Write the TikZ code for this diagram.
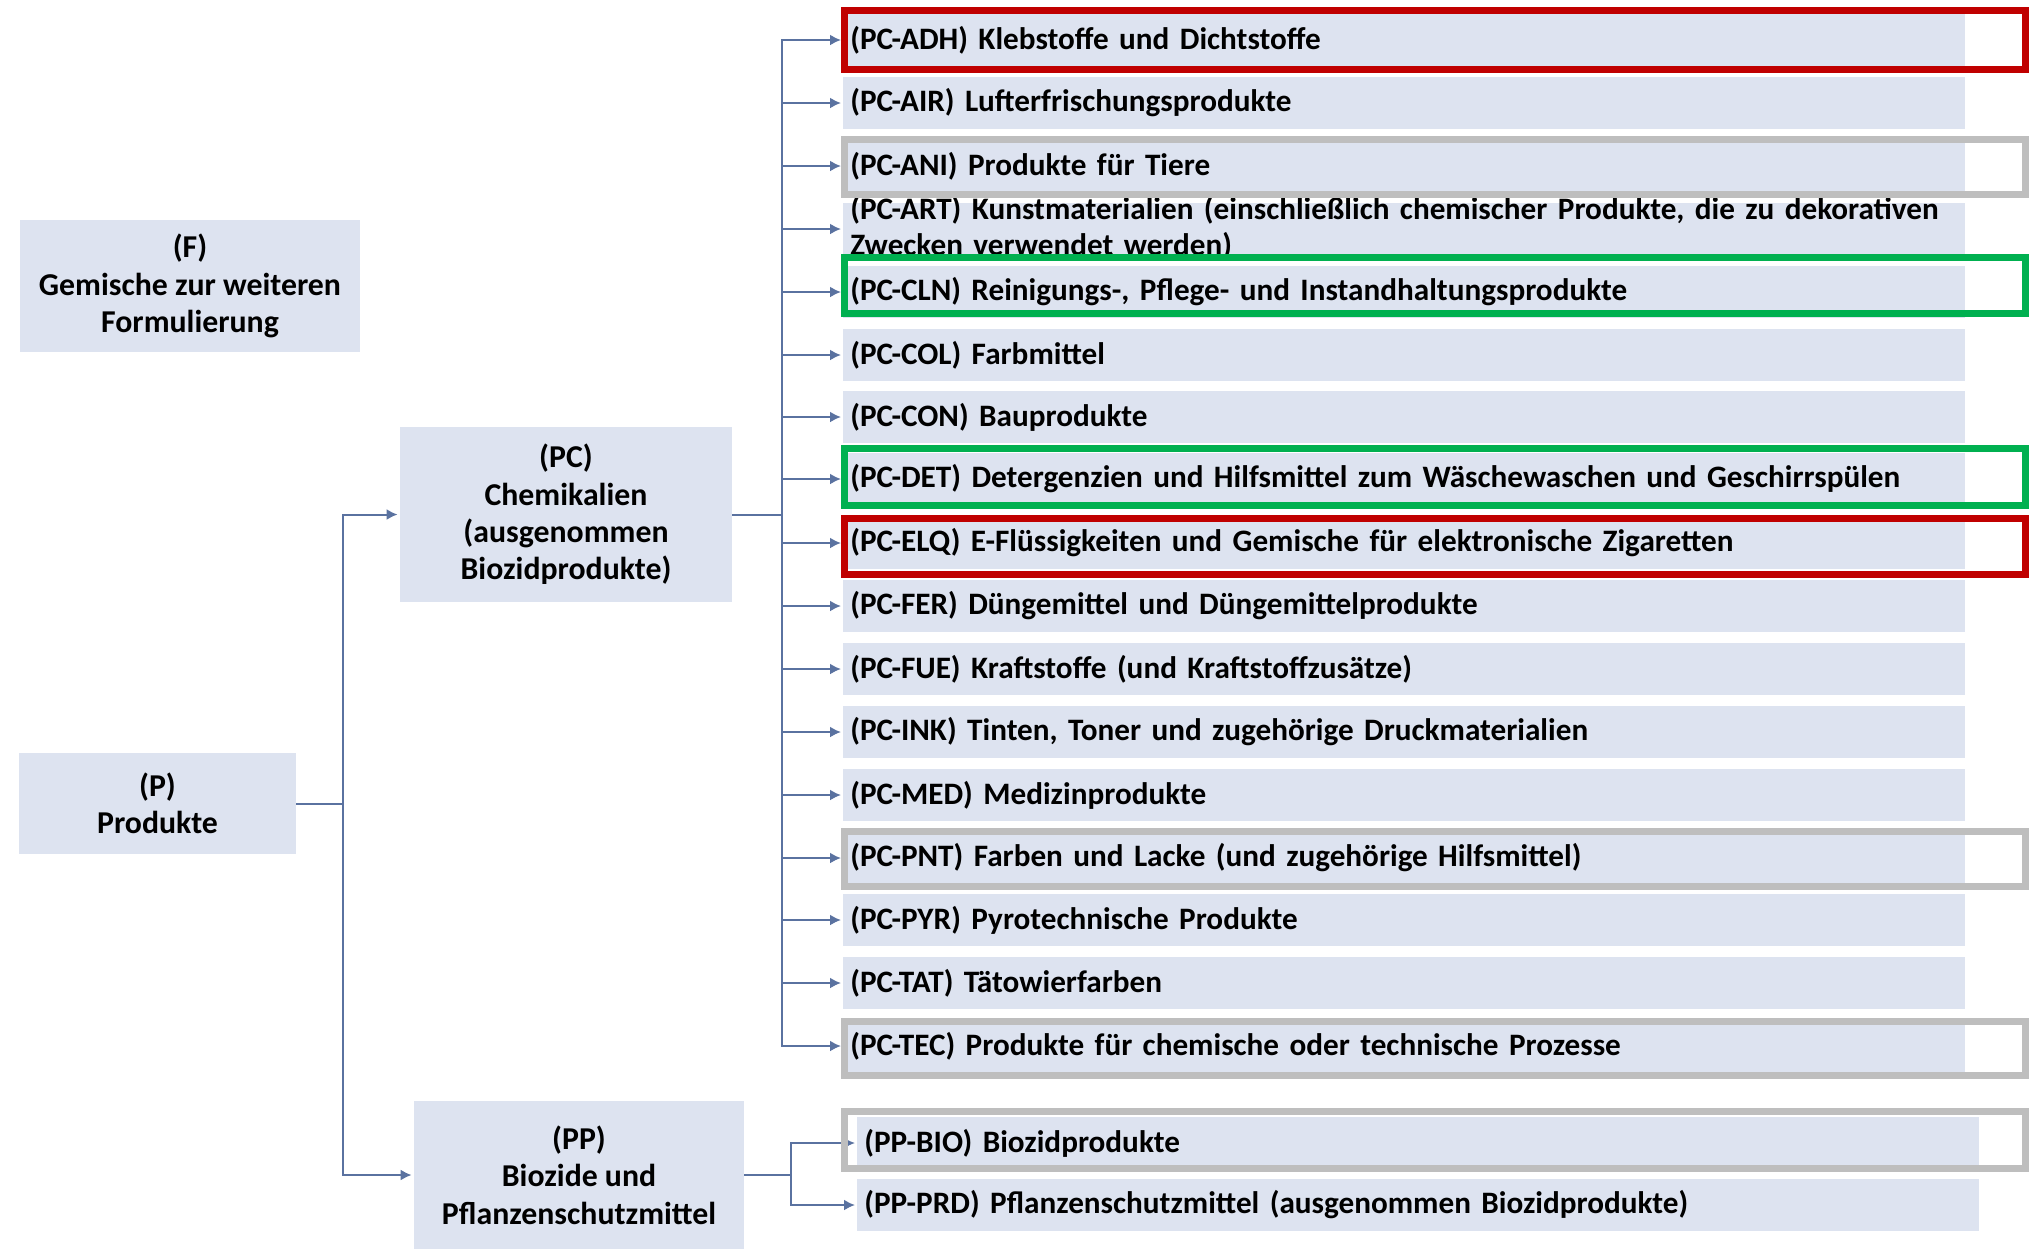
\documentclass[tikz,border=0pt]{standalone}
\usepackage{fontspec}
\setmainfont{Carlito}
\usetikzlibrary{arrows.meta}

\definecolor{boxfill}{RGB}{221,227,240}
\definecolor{linkblue}{RGB}{90,114,160}
\definecolor{markred}{RGB}{192,0,0}
\definecolor{markgreen}{RGB}{0,176,80}
\definecolor{markgray}{RGB}{190,190,190}

\tikzset{
	catbox/.style={fill=boxfill, align=center, inner sep=0pt, font=\bfseries\fontsize{15.9}{18.7}\selectfont},
	leafbox/.style={fill=boxfill, anchor=west, minimum width=561pt, minimum height=26pt, text width=554pt, inner xsep=3.5pt, inner ysep=0pt, align=left, font=\bfseries\fontsize{15.6}{18}\selectfont},
	link/.style={draw=linkblue, line width=1pt},
	tolink/.style={link, -{Latex[length=5.5pt,width=5.5pt]}, shorten >=1pt},
	redmark/.style={draw=markred, line width=3.5pt},
	greenmark/.style={draw=markgreen, line width=3.5pt},
	graymark/.style={draw=markgray, line width=3.5pt}
}

\begin{document}
\begin{tikzpicture}[x=0.5pt, y=-0.5pt] % 1 unit = 1 pixel of the original, y downwards

	\useasboundingbox (0,0) rectangle (2029,1249);

	% left column
	\node[catbox, minimum width=170pt, minimum height=66pt] (f) at (190,286) {(F)\\Gemische zur weiteren\\Formulierung};
	\node[catbox, minimum width=138.5pt, minimum height=50.5pt] (p) at (157.5,803.5) {(P)\\Produkte};
	\node[catbox, minimum width=166pt, minimum height=87.5pt] (pc) at (566,514.5) {(PC)\\Chemikalien\\(ausgenommen\\Biozidprodukte)};
	\node[catbox, minimum width=165pt, minimum height=74pt] (pp) at (579,1175) {(PP)\\Biozide und\\Pflanzenschutzmittel};

	% chemicals
	\node[leafbox] (adh) at (843,40) {(PC-ADH) Klebstoffe und Dichtstoffe};
	\node[leafbox] (air) at (843,103) {(PC-AIR) Lufterfrischungsprodukte};
	\node[leafbox] (ani) at (843,166) {(PC-ANI) Produkte für Tiere};
	\node[leafbox, text height=0pt, text depth=10pt] (art) at (843,229) {(PC-ART) Kunstmaterialien (einschließlich chemischer Produkte, die zu dekorativen\\Zwecken verwendet werden)};
	\node[leafbox] (cln) at (843,292) {(PC-CLN) Reinigungs-, Pflege- und Instandhaltungsprodukte};
	\node[leafbox] (col) at (843,355) {(PC-COL) Farbmittel};
	\node[leafbox] (con) at (843,417) {(PC-CON) Bauprodukte};
	\node[leafbox] (det) at (843,479) {(PC-DET) Detergenzien und Hilfsmittel zum Wäschewaschen und Geschirrspülen};
	\node[leafbox] (elq) at (843,543) {(PC-ELQ) E-Flüssigkeiten und Gemische für elektronische Zigaretten};
	\node[leafbox] (fer) at (843,606) {(PC-FER) Düngemittel und Düngemittelprodukte};
	\node[leafbox] (fue) at (843,669) {(PC-FUE) Kraftstoffe (und Kraftstoffzusätze)};
	\node[leafbox] (ink) at (843,732) {(PC-INK) Tinten, Toner und zugehörige Druckmaterialien};
	\node[leafbox] (med) at (843,795) {(PC-MED) Medizinprodukte};
	\node[leafbox] (pnt) at (843,858) {(PC-PNT) Farben und Lacke (und zugehörige Hilfsmittel)};
	\node[leafbox] (pyr) at (843,920) {(PC-PYR) Pyrotechnische Produkte};
	\node[leafbox] (tat) at (843,983) {(PC-TAT) Tätowierfarben};
	\node[leafbox] (tec) at (843,1046) {(PC-TEC) Produkte für chemische oder technische Prozesse};

	% biocides
	\node[leafbox] (bio) at (857,1143) {(PP-BIO) Biozidprodukte};
	\node[leafbox] (prd) at (857,1205) {(PP-PRD) Pflanzenschutzmittel (ausgenommen Biozidprodukte)};

	% connectors
	\coordinate (pbus) at (343,803.5);
	\coordinate (pcbus) at (782,514.5);
	\coordinate (ppbus) at (791,1175);

	\draw[link] (p.east) -- (pbus);
	\draw[tolink] (pbus) |- (pc.west);
	\draw[tolink] (pbus) |- (pp.west);

	\draw[link] (pc.east) -- (pcbus);
	\draw[tolink] (pcbus) |- (adh.west);
	\draw[tolink] (pcbus) |- (air.west);
	\draw[tolink] (pcbus) |- (ani.west);
	\draw[tolink] (pcbus) |- (art.west);
	\draw[tolink] (pcbus) |- (cln.west);
	\draw[tolink] (pcbus) |- (col.west);
	\draw[tolink] (pcbus) |- (con.west);
	\draw[tolink] (pcbus) |- (det.west);
	\draw[tolink] (pcbus) |- (elq.west);
	\draw[tolink] (pcbus) |- (fer.west);
	\draw[tolink] (pcbus) |- (fue.west);
	\draw[tolink] (pcbus) |- (ink.west);
	\draw[tolink] (pcbus) |- (med.west);
	\draw[tolink] (pcbus) |- (pnt.west);
	\draw[tolink] (pcbus) |- (pyr.west);
	\draw[tolink] (pcbus) |- (tat.west);
	\draw[tolink] (pcbus) |- (tec.west);

	\draw[link] (pp.east) -- (ppbus);
	\draw[tolink] (ppbus) |- (bio.west);
	\draw[tolink] (ppbus) |- (prd.west);

	% highlight frames
	\draw[redmark] (844.5,10.5) rectangle (2025.5,69.5);
	\draw[graymark] (844.5,139.5) rectangle (2025.5,194.5);
	\draw[greenmark] (844.5,257.5) rectangle (2025.5,313.5);
	\draw[greenmark] (844.5,448.5) rectangle (2025.5,505.5);
	\draw[redmark] (844.5,518.5) rectangle (2025.5,574.5);
	\draw[graymark] (844.5,831.5) rectangle (2025.5,886.5);
	\draw[graymark] (844.5,1021.5) rectangle (2025.5,1075.5);
	\draw[graymark] (844.5,1111.5) rectangle (2025.5,1168.5);

\end{tikzpicture}
\end{document}
